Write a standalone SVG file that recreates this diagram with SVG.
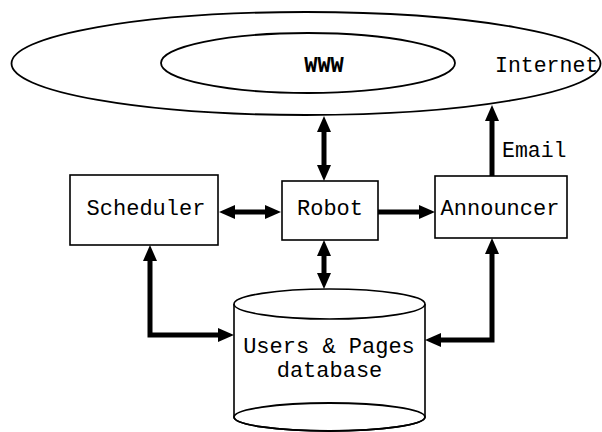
<svg xmlns="http://www.w3.org/2000/svg" width="602" height="432" viewBox="0 0 602 432">
<style>
.shape{fill:none;stroke:#000;stroke-width:1.8}
.box{fill:#fff;stroke:#000;stroke-width:1.6}
.lbl{font-family:"Liberation Mono","Courier New",monospace;font-size:22px;fill:#000}
.conn{fill:none;stroke:#000;stroke-width:5;stroke-linejoin:miter}
</style>
<defs>
<marker id="ah" markerUnits="userSpaceOnUse" markerWidth="16" markerHeight="14" refX="4" refY="7" orient="auto-start-reverse">
<path d="M0,0 L16,7 L0,14 z" fill="#000"/>
</marker>
</defs>
<rect width="602" height="432" fill="#fff"/>
<g id="internet">
<ellipse class="shape" cx="306" cy="63.5" rx="294.5" ry="51.5"/>
<text class="lbl" x="495" y="72" style="font-size:21.5px">Internet</text>
</g>
<g id="www">
<ellipse class="shape" cx="308" cy="63" rx="147" ry="30"/>
<text class="lbl" x="324" y="72" text-anchor="middle" font-weight="bold">WWW</text>
</g>
<g id="scheduler">
<rect class="box" x="70" y="175" width="148" height="70"/>
<text class="lbl" x="146" y="215" text-anchor="middle">Scheduler</text>
</g>
<g id="robot">
<rect class="box" x="282" y="181" width="96" height="59"/>
<text class="lbl" x="330" y="215" text-anchor="middle">Robot</text>
</g>
<g id="announcer">
<rect class="box" x="435" y="176" width="132" height="62"/>
<text class="lbl" x="500" y="215" text-anchor="middle">Announcer</text>
</g>
<g id="database">
<path class="box" d="M234,304 L234,417 A95.5,14 0 0 0 425,417 L425,304"/>
<ellipse class="box" cx="329.5" cy="304" rx="95.5" ry="15"/>
<ellipse class="shape" cx="329.5" cy="417" rx="95.5" ry="14"/>
<text class="lbl" x="329" y="353" text-anchor="middle">Users &amp; Pages</text>
<text class="lbl" x="329.5" y="377" text-anchor="middle">database</text>
</g>
<g id="connectors">
<path class="conn" d="M324,128 L324,169" marker-start="url(#ah)" marker-end="url(#ah)"/>
<path class="conn" d="M231,212 L269,212" marker-start="url(#ah)" marker-end="url(#ah)"/>
<path class="conn" d="M378,212 L423,212" marker-end="url(#ah)"/>
<path class="conn" d="M492,176 L492,117" marker-end="url(#ah)"/>
<path class="conn" d="M324,252 L324,277" marker-start="url(#ah)" marker-end="url(#ah)"/>
<path class="conn" d="M150,257 L150,335 L222,335" marker-start="url(#ah)" marker-end="url(#ah)"/>
<path class="conn" d="M492,250 L492,340 L437,340" marker-start="url(#ah)" marker-end="url(#ah)"/>
<text class="lbl" x="502" y="157" style="font-size:21.5px">Email</text>
</g>
</svg>
